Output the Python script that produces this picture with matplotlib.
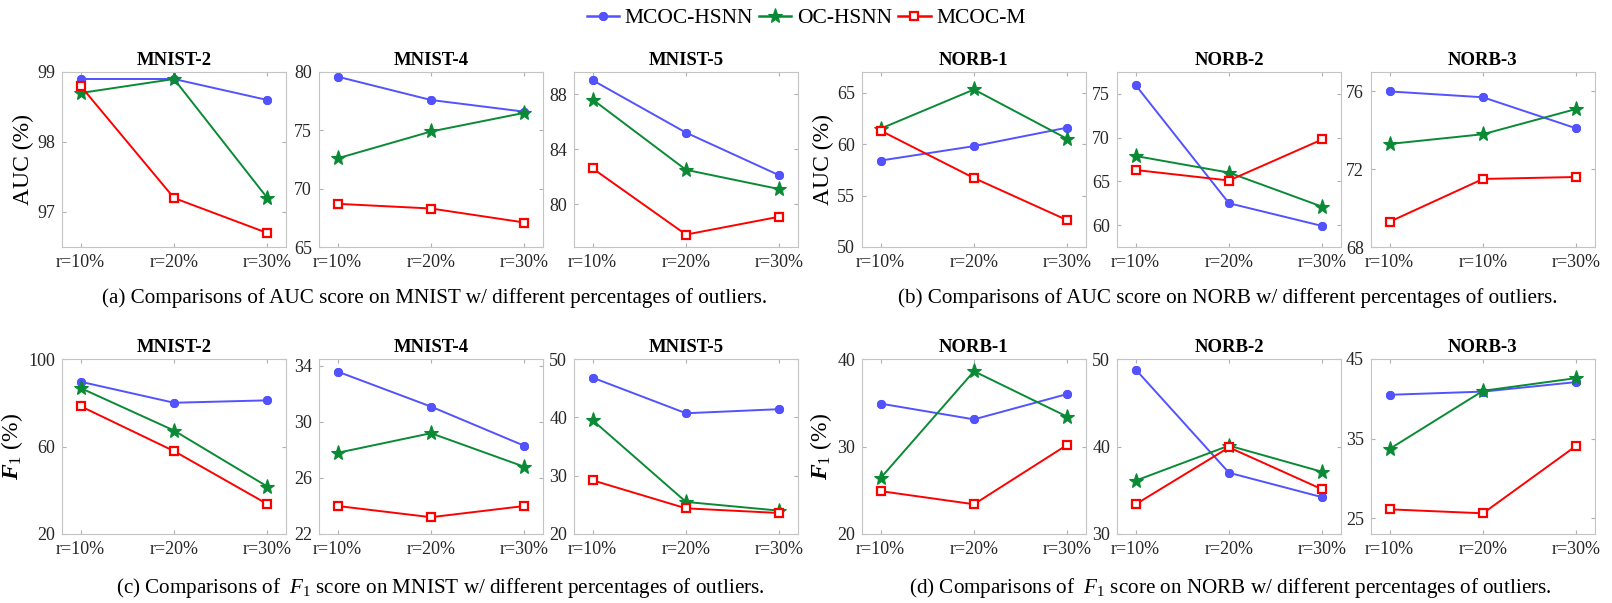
import matplotlib
matplotlib.use("Agg")
import matplotlib.pyplot as plt
from matplotlib.lines import Line2D

plt.rcParams["font.family"] = ["Liberation Serif", "DejaVu Serif"]
plt.rcParams["mathtext.fontset"] = "custom"
plt.rcParams["mathtext.rm"] = "Liberation Serif"
plt.rcParams["mathtext.it"] = "Liberation Serif:italic"
plt.rcParams["mathtext.bf"] = "Liberation Serif:bold:italic"

X_LABELS = ["r=10%", "r=20%", "r=30%"]
X_LABELS_NORB3_AUC = ["r=10%", "r=10%", "r=30%"]
SERIES = ["MCOC-HSNN", "OC-HSNN", "MCOC-M"]

# rows: MCOC-HSNN, OC-HSNN, MCOC-M
AUC_MNIST2 = [[98.9, 98.9, 98.6], [98.7, 98.9, 97.2], [98.8, 97.2, 96.7]]
AUC_MNIST4 = [[79.6, 77.6, 76.6], [72.6, 74.9, 76.5], [68.7, 68.3, 67.1]]
AUC_MNIST5 = [[89.0, 85.2, 82.1], [87.6, 82.5, 81.1], [82.6, 77.8, 79.1]]
AUC_NORB1 = [[58.4, 59.8, 61.6], [61.5, 65.3, 60.5], [61.3, 56.7, 52.6]]
AUC_NORB2 = [[76.0, 62.5, 59.9], [67.9, 66.0, 62.1], [66.3, 65.1, 69.8]]
AUC_NORB3 = [[76.0, 75.7, 74.1], [73.3, 73.8, 75.1], [69.3, 71.5, 71.6]]

F1_MNIST2 = [[89.6, 80.0, 81.1], [86.7, 67.3, 41.7], [78.4, 57.9, 33.7]]
F1_MNIST4 = [[33.6, 31.1, 28.3], [27.8, 29.2, 26.8], [24.0, 23.2, 24.0]]
F1_MNIST5 = [[46.8, 40.7, 41.4], [39.5, 25.5, 24.0], [29.2, 24.4, 23.6]]
F1_NORB1 = [[34.9, 33.1, 36.0], [26.4, 38.6, 33.4], [24.9, 23.4, 30.2]]
F1_NORB2 = [[48.8, 37.0, 34.2], [36.1, 40.1, 37.1], [33.4, 39.9, 35.1]]
F1_NORB3 = [[40.5, 40.9, 42.1], [33.7, 41.0, 42.6], [26.1, 25.6, 34.1]]

COLORS = ["#5252ff", "#0a8a35", "#ff0000"]
STYLES = [
    dict(marker=(8, 2, 0), markersize=6.5, markeredgewidth=2.0),
    dict(marker="*", markersize=11, markeredgewidth=0.8),
    dict(marker="s", markersize=5.5, markeredgewidth=1.6, markerfacecolor="white"),
]

W, H = 1612, 603
LEFTS = [62, 319, 574, 862, 1117, 1371]
AX_W = 224
ROW_TOPS = [72, 359]
AX_H = 175

panels = [
    # row, col, title, data, ylim, yticks, xlabels
    (0, 0, "MNIST-2", AUC_MNIST2, (96.5, 99), [97, 98, 99], X_LABELS),
    (0, 1, "MNIST-4", AUC_MNIST4, (65, 80), [65, 70, 75, 80], X_LABELS),
    (0, 2, "MNIST-5", AUC_MNIST5, (76.9, 89.6), [80, 84, 88], X_LABELS),
    (0, 3, "NORB-1", AUC_NORB1, (50, 67), [50, 55, 60, 65], X_LABELS),
    (0, 4, "NORB-2", AUC_NORB2, (57.5, 77.5), [60, 65, 70, 75], X_LABELS),
    (0, 5, "NORB-3", AUC_NORB3, (68, 77), [68, 72, 76], X_LABELS_NORB3_AUC),
    (1, 0, "MNIST-2", F1_MNIST2, (20, 100), [20, 60, 100], X_LABELS),
    (1, 1, "MNIST-4", F1_MNIST4, (22, 34.5), [22, 26, 30, 34], X_LABELS),
    (1, 2, "MNIST-5", F1_MNIST5, (20, 50), [20, 30, 40, 50], X_LABELS),
    (1, 3, "NORB-1", F1_NORB1, (20, 40), [20, 30, 40], X_LABELS),
    (1, 4, "NORB-2", F1_NORB2, (30, 50), [30, 40, 50], X_LABELS),
    (1, 5, "NORB-3", F1_NORB3, (23, 45), [25, 35, 45], X_LABELS),
]

fig = plt.figure(figsize=(W / 100, H / 100), dpi=100)

for row, col, title, data, ylim, yticks, xlabels in panels:
    left = LEFTS[col] / W
    bottom = 1 - (ROW_TOPS[row] + AX_H) / H
    ax = fig.add_axes([left, bottom, AX_W / W, AX_H / H])
    xs = range(len(xlabels))
    for vals, color, st in zip(data, COLORS, STYLES):
        ax.plot(xs, vals, color=color, lw=1.4, markeredgecolor=color,
                **({"markerfacecolor": color} | st))
    ax.set_xlim(-0.2, 2.2)
    ax.set_ylim(*ylim)
    ax.set_yticks(yticks)
    ax.set_xticks(list(xs))
    ax.set_xticklabels(xlabels)
    ax.tick_params(direction="in", length=3, color="#b0b0b0", labelsize=13,
                   labelcolor="#262626", top=True, right=True, pad=5)
    for sp in ax.spines.values():
        sp.set_color("#c4c4c4")
        sp.set_linewidth(0.8)
    ax.set_title(title, fontsize=13.5, fontweight="bold", pad=5)
    if col in (0, 3):
        label = "AUC (%)" if row == 0 else r"$\mathbf{F}_{1}$ (%)"
        ax.set_ylabel(label, fontsize=17, labelpad=2)

handles = [Line2D([], [], color=c, lw=1.8, markeredgecolor=c,
                  **({"markerfacecolor": c} | st))
           for c, st in zip(COLORS, STYLES)]
fig.legend(handles, SERIES, loc="center", bbox_to_anchor=(0.5, 1 - 18 / H),
           ncol=3, frameon=False, fontsize=15.5, handlelength=1.5,
           handletextpad=0.25, columnspacing=0.3)

captions = [
    (435, 298, "(a) Comparisons of AUC score on MNIST w/ different percentages of outliers."),
    (1228, 298, "(b) Comparisons of AUC score on NORB w/ different percentages of outliers."),
    (440, 588, r"(c) Comparisons of  $F_{1}$ score on MNIST w/ different percentages of outliers."),
    (1230, 588, r"(d) Comparisons of  $F_{1}$ score on NORB w/ different percentages of outliers."),
]
for cx, cy, text in captions:
    fig.text(cx / W, 1 - cy / H, text, ha="center", va="center", fontsize=15.2)

fig.savefig("out.png", dpi=100)
